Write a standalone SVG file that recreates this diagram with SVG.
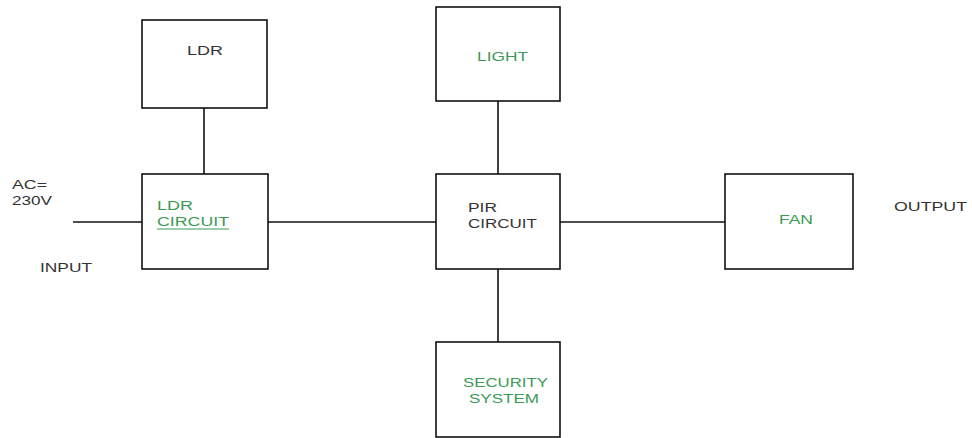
<svg xmlns="http://www.w3.org/2000/svg" width="972" height="438" viewBox="0 0 972 438">
<style>
.box{fill:#fff;stroke:#111;stroke-width:1.6}
.ln{stroke:#111;stroke-width:1.6;fill:none}
text{font-family:"Liberation Sans",Arial,sans-serif;font-size:12.5px}
.g{fill:#3a9a55}
.k{fill:#333}
</style>
<rect width="972" height="438" fill="#fff"/>
<g id="connectors">
<line class="ln" x1="73" y1="222" x2="142" y2="222"/>
<line class="ln" x1="204" y1="108" x2="204" y2="174"/>
<line class="ln" x1="268" y1="222" x2="436" y2="222"/>
<line class="ln" x1="498" y1="101" x2="498" y2="174"/>
<line class="ln" x1="498" y1="269" x2="498" y2="342"/>
<line class="ln" x1="560" y1="222" x2="725" y2="222"/>
</g>
<g id="ldr">
<rect class="box" x="142" y="20" width="125" height="88"/>
<text class="k" x="187" y="55" textLength="36" lengthAdjust="spacingAndGlyphs">LDR</text>
</g>
<g id="ldr-circuit">
<rect class="box" x="142" y="174" width="126" height="95"/>
<text class="g" x="157" y="210" textLength="36" lengthAdjust="spacingAndGlyphs">LDR</text>
<text class="g" x="157" y="226" textLength="72" lengthAdjust="spacingAndGlyphs">CIRCUIT</text>
<line x1="157" y1="229" x2="229" y2="229" stroke="#3a9a55" stroke-width="1"/>
</g>
<g id="light">
<rect class="box" x="436" y="7" width="124" height="94"/>
<text class="g" x="477" y="61" textLength="51" lengthAdjust="spacingAndGlyphs">LIGHT</text>
</g>
<g id="pir">
<rect class="box" x="436" y="174" width="124" height="95"/>
<text class="k" x="468" y="212" textLength="29" lengthAdjust="spacingAndGlyphs">PIR</text>
<text class="k" x="468" y="228" textLength="69" lengthAdjust="spacingAndGlyphs">CIRCUIT</text>
</g>
<g id="security">
<rect class="box" x="436" y="342" width="124" height="95"/>
<text class="g" x="463" y="387" textLength="85" lengthAdjust="spacingAndGlyphs">SECURITY</text>
<text class="g" x="469" y="403" textLength="70" lengthAdjust="spacingAndGlyphs">SYSTEM</text>
</g>
<g id="fan">
<rect class="box" x="725" y="174" width="128" height="95"/>
<text class="g" x="779" y="224" textLength="34" lengthAdjust="spacingAndGlyphs">FAN</text>
</g>
<g id="labels">
<text class="k" x="12" y="189" textLength="35" lengthAdjust="spacingAndGlyphs">AC=</text>
<text class="k" x="12" y="205" textLength="40" lengthAdjust="spacingAndGlyphs">230V</text>
<text class="k" x="40" y="272" textLength="52" lengthAdjust="spacingAndGlyphs">INPUT</text>
<text class="k" x="894" y="211" textLength="73" lengthAdjust="spacingAndGlyphs">OUTPUT</text>
</g>
</svg>
